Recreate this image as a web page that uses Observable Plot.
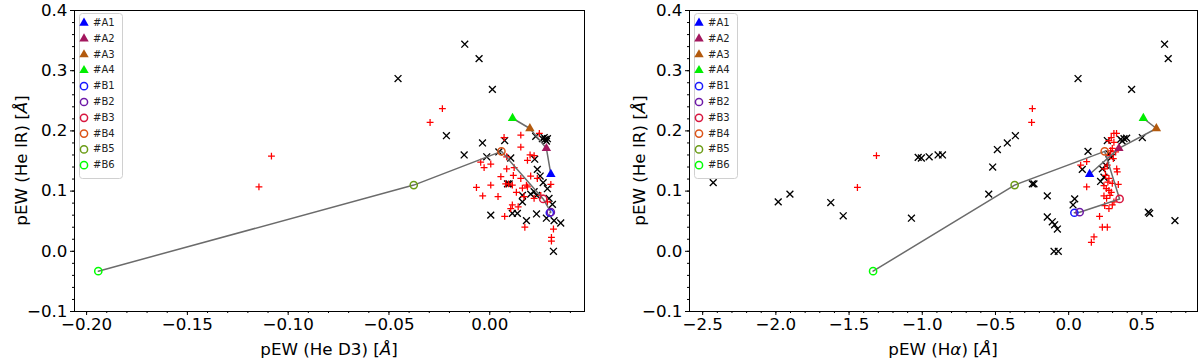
<!DOCTYPE html>
<html><head><meta charset="utf-8">
<script src="https://cdn.jsdelivr.net/npm/d3@7"></script>
<script src="https://cdn.jsdelivr.net/npm/@observablehq/plot@0.6"></script>
<style>
body{margin:0;background:#fff;}
#wrap{position:relative;width:1200px;height:359px;font-family:"DejaVu Sans",sans-serif;overflow:hidden;}
.panel{position:absolute;top:0;}
.legend{position:absolute;pointer-events:none;}
</style></head><body><div id="wrap"></div>
<script>
// ---- Legend / special epochs ----
const ids = ["#A1","#A2","#A3","#A4","#B1","#B2","#B3","#B4","#B5","#B6"];
const groups = ["A","A","A","A","B","B","B","B","B","B"];
const colors = ["#0000ff","#a3175e","#b35a0e","#00ee00","#1a1aff","#6e1aa8","#d8173f","#dc5418","#6b9c16","#00ff00"];
const shapes = ["triangle","triangle","triangle","triangle","circle","circle","circle","circle","circle","circle"];
// He IR pEW of the special epochs (shared y)
const specialHeIR = [0.128,0.171,0.204,0.221,0.064,0.065,0.087,0.166,0.110,-0.033];
// He D3 pEW of special epochs
const specialHeD3 = [0.0303,0.0281,0.0199,0.0113,0.0298,0.0303,0.0265,0.0058,-0.0377,-0.1942];
// H alpha pEW of special epochs
const specialHa = [0.143,0.343,0.599,0.510,0.039,0.075,0.348,0.246,-0.369,-1.336];

// ---- Left panel: He D3 vs He IR ----
const leftCross = [[-0.0124,0.344],[-0.0053,0.320],[-0.0455,0.287],[0.0013,0.269],[-0.0215,0.192],[-0.0127,0.160],[-0.0036,0.180],[0.0074,0.184],[-0.0015,0.157],[0.0045,0.165],[0.0228,0.191],[0.0261,0.187],[0.0275,0.186],[0.0286,0.187],[0.0281,0.183],[0.0270,0.189],[0.0223,0.153],[0.0236,0.136],[0.0250,0.125],[0.0265,0.114],[0.0088,0.112],[0.0096,0.112],[0.0104,0.155],[0.0162,0.093],[0.0203,0.095],[0.0233,0.093],[0.0294,0.088],[0.0311,0.078],[0.0162,0.082],[0.0005,0.060],[0.0112,0.063],[0.0137,0.063],[0.0182,0.051],[0.0232,0.062],[0.0281,0.055],[0.0319,0.051],[0.0352,0.047],[0.0316,0.000],[0.0220,0.099],[0.0286,0.104]];
const leftPlus = [[-0.1083,0.158],[-0.1145,0.107],[-0.0235,0.237],[-0.0296,0.214],[0.0071,0.189],[0.0154,0.193],[0.0246,0.196],[0.0154,0.173],[0.0200,0.160],[0.0220,0.159],[0.0187,0.151],[0.0084,0.157],[-0.0045,0.148],[-0.0028,0.139],[0.0005,0.145],[0.0084,0.137],[0.0121,0.139],[0.0117,0.126],[0.0055,0.124],[0.0112,0.110],[0.0154,0.121],[0.0182,0.110],[0.0203,0.125],[0.0236,0.121],[0.0303,0.111],[-0.0066,0.106],[0.0005,0.110],[0.0079,0.112],[0.0162,0.105],[0.0187,0.107],[0.0132,0.098],[-0.0035,0.092],[0.0041,0.091],[0.0170,0.091],[0.0220,0.088],[0.0112,0.077],[0.0141,0.074],[0.0104,0.071],[0.0074,0.058],[0.0174,0.040],[0.0316,0.037],[0.0306,0.023],[0.0306,0.017],[0.0253,0.093],[0.0286,0.082],[0.0093,0.112]];

// ---- Right panel: H alpha vs He IR ----
const rightCross = [[-2.428,0.114],[-1.984,0.082],[-1.904,0.095],[-1.625,0.081],[-1.540,0.059],[0.655,0.344],[0.680,0.320],[0.064,0.287],[0.430,0.269],[-0.364,0.192],[-0.419,0.180],[-0.487,0.169],[-0.519,0.140],[-0.546,0.095],[-0.248,0.112],[-0.237,0.112],[-0.146,0.092],[0.132,0.166],[0.093,0.136],[-1.028,0.156],[-1.006,0.155],[-0.953,0.157],[-0.892,0.160],[-0.862,0.160],[-1.074,0.055],[0.503,0.189],[0.355,0.186],[0.378,0.187],[0.396,0.188],[0.366,0.183],[0.264,0.184],[0.291,0.156],[0.230,0.137],[0.241,0.123],[0.218,0.116],[0.041,0.087],[0.030,0.077],[-0.146,0.057],[-0.112,0.049],[-0.096,0.044],[-0.077,0.037],[-0.100,0.000],[-0.071,0.000],[0.544,0.065],[0.553,0.063],[0.726,0.051],[0.253,0.143],[0.275,0.162]];
const rightPlus = [[-1.313,0.159],[-1.443,0.106],[-0.248,0.237],[-0.253,0.214],[0.309,0.196],[0.327,0.196],[0.291,0.189],[0.275,0.184],[0.309,0.181],[0.298,0.171],[0.321,0.165],[0.287,0.167],[0.282,0.159],[0.305,0.154],[0.328,0.137],[0.332,0.132],[0.246,0.137],[0.264,0.143],[0.123,0.149],[0.082,0.143],[0.252,0.126],[0.275,0.121],[0.268,0.115],[0.298,0.113],[0.339,0.111],[0.123,0.107],[0.241,0.109],[0.257,0.104],[0.275,0.101],[0.291,0.098],[0.282,0.093],[0.241,0.092],[0.259,0.088],[0.309,0.082],[0.246,0.076],[0.275,0.071],[0.298,0.077],[0.211,0.058],[0.230,0.040],[0.264,0.040],[0.173,0.024],[0.155,0.015]];

// ---- Ticks ----
const yMajor = [-0.1,0.0,0.1,0.2,0.3,0.4];
const yMinor = d3.range(-10,41,2).map(v => v/100);
const leftXMajor = [-0.20,-0.15,-0.10,-0.05,0.00];
const leftXMinor = d3.range(-20,5,1).map(v => v/100);
const rightXMajor = [-2.5,-2.0,-1.5,-1.0,-0.5,0.0,0.5];
const rightXMinor = d3.range(-25,9,1).map(v => v/10);

const W = 600, H = 359, MT = 10, MB = 48;
const FS = 16.7;

function makePanel(cfg) {
  const special = ids.map((id,i) => ({id, group: groups[i], color: colors[i], shape: shapes[i], x: cfg.specialX[i], y: specialHeIR[i]}));
  const tri = special.filter(d => d.shape === "triangle");
  const circ = special.filter(d => d.shape === "circle");
  const svg = Plot.plot({
    width: W, height: H,
    marginLeft: cfg.ml, marginRight: cfg.mr, marginTop: MT, marginBottom: MB,
    style: {fontFamily: "DejaVu Sans", color: "black", background: "white"},
    x: {domain: cfg.xDomain},
    y: {domain: [-0.1, 0.4]},
    marks: [
      Plot.dot(cfg.cross, {x: d => d[0], y: d => d[1], symbol: "times", r: 3.2, stroke: "black", strokeWidth: 1.35}),
      Plot.dot(cfg.plus, {x: d => d[0], y: d => d[1], symbol: "plus", r: 2.35, stroke: "#ff0000", strokeWidth: 1.25}),
      Plot.line(special, {x: "x", y: "y", z: "group", stroke: "#6b6b6b", strokeWidth: 1.5}),
      Plot.dot(circ, {x: "x", y: "y", symbol: "circle", r: 3.6, stroke: "color", fill: "none", strokeWidth: 1.5}),
      Plot.dot(tri, {x: "x", y: "y", symbol: "triangle", r: 3.5, fill: "color", stroke: "none"}),
      Plot.axisX(cfg.xMajor, {tickSize: 4, tickPadding: 3, fontSize: FS, tickFormat: cfg.xFmt, label: null}),
      Plot.axisX(cfg.xMinor, {tickSize: 2, tickFormat: () => "", label: null}),
      Plot.axisY(yMajor, {tickSize: 4, tickPadding: 3, fontSize: FS, tickFormat: d3.format(".1f"), label: null}),
      Plot.axisY(yMinor, {tickSize: 2, tickFormat: () => "", label: null}),
      Plot.frame({stroke: "black", strokeWidth: 1})
    ]
  });
  const s = d3.select(svg);
  const x0 = cfg.ml, x1 = W - cfg.mr;
  // x label
  const xl = s.append("text").attr("x", (x0 + x1) / 2).attr("y", 350).attr("text-anchor", "middle")
    .attr("dominant-baseline", "middle").style("font-size", FS + "px").style("font-family", "DejaVu Sans").attr("fill", "black");
  cfg.xLabel.forEach(([t, it]) => xl.append("tspan").text(t).style("font-style", it ? "italic" : "normal"));
  // y label
  const yc = (MT + (H - MB)) / 2;
  const yl = s.append("text").attr("transform", `translate(${cfg.ylx},${yc}) rotate(-90)`).attr("text-anchor", "middle")
    .attr("dominant-baseline", "middle").style("font-size", FS + "px").style("font-family", "DejaVu Sans").attr("fill", "black");
  [["pEW (He IR) [", false], ["Å", true], ["]", false]].forEach(([t, it]) => yl.append("tspan").text(t).style("font-style", it ? "italic" : "normal"));
  return svg;
}

function makeLegend(left) {
  const lw = 43, lh = 165;
  const svg = d3.create("svg").attr("width", lw + 2).attr("height", lh + 2).attr("class", "legend")
    .style("left", left + "px").style("top", "13px");
  svg.append("rect").attr("x", 0.5).attr("y", 0.5).attr("width", lw).attr("height", lh).attr("rx", 3)
    .attr("fill", "white").attr("fill-opacity", 0.85).attr("stroke", "#d0d0d0");
  ids.forEach((id, i) => {
    const cy = 10 + i * 15.8;
    const g = svg.append("g").attr("transform", `translate(5,${cy})`);
    if (shapes[i] === "triangle") {
      g.append("path").attr("d", d3.symbol(d3.symbolTriangle, Math.PI * 3.5 * 3.5)()).attr("fill", colors[i]);
    } else {
      g.append("circle").attr("r", 3.6).attr("fill", "none").attr("stroke", colors[i]).attr("stroke-width", 1.5);
    }
    svg.append("text").attr("x", 14).attr("y", cy).attr("dominant-baseline", "middle")
      .style("font-size", "10px").style("font-family", "DejaVu Sans").attr("fill", "#222").text(id);
  });
  return svg.node();
}

const wrap = document.getElementById("wrap");
const left = makePanel({
  ml: 74, mr: 16, xDomain: [-0.206, 0.047], xMajor: leftXMajor, xMinor: leftXMinor, xFmt: d3.format(".2f"),
  cross: leftCross, plus: leftPlus, specialX: specialHeD3, ylx: 22,
  xLabel: [["pEW (He D3) [", false], ["Å", true], ["]", false]]
});
left.classList.add("panel"); left.style.left = "0px";
wrap.appendChild(left);
const right = makePanel({
  ml: 89, mr: 3, xDomain: [-2.59, 0.88], xMajor: rightXMajor, xMinor: rightXMinor, xFmt: d3.format(".1f"),
  cross: rightCross, plus: rightPlus, specialX: specialHa, ylx: 40,
  xLabel: [["pEW (H", false], ["α", true], [") [", false], ["Å", true], ["]", false]]
});
right.classList.add("panel"); right.style.left = "600px";
wrap.appendChild(right);
wrap.appendChild(makeLegend(79));
wrap.appendChild(makeLegend(694));
</script></body></html>
